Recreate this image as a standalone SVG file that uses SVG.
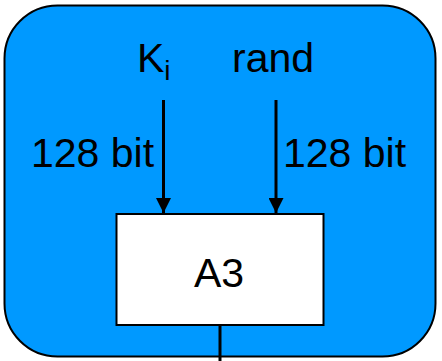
<svg xmlns="http://www.w3.org/2000/svg" width="442" height="361" viewBox="0 0 442 361">
<defs>
<style>
.t{font-family:"Liberation Sans",Arial,sans-serif;font-size:41px;fill:#000}
.ln{stroke:#000;stroke-width:3;fill:none}
</style>
<marker id="ah" markerWidth="15" markerHeight="15" viewBox="0 0 15 15" refX="15" refY="7.5" orient="auto" markerUnits="userSpaceOnUse">
<path d="M0,0 L15,7.5 L0,15 Z" fill="#000"/>
</marker>
</defs>
<g id="container">
<rect x="4.5" y="5.5" width="431" height="351" rx="53" ry="53" fill="#0099FF" stroke="#000" stroke-width="2"/>
</g>
<g id="ki"><text class="t" x="137" y="72">K<tspan font-size="28" dy="8">i</tspan></text></g>
<g id="rand"><text class="t" x="232" y="72">rand</text></g>
<g id="label-left"><text class="t" x="31" y="167">128 bit</text></g>
<g id="label-right"><text class="t" x="283" y="167">128 bit</text></g>
<g id="a3">
<rect x="116.5" y="214" width="207" height="111" fill="#fff" stroke="#000" stroke-width="2"/>
<text class="t" x="219" y="287" text-anchor="middle">A3</text>
</g>
<g id="connectors">
<line class="ln" x1="163.5" y1="100" x2="163.5" y2="213" marker-end="url(#ah)"/>
<line class="ln" x1="276" y1="100" x2="276" y2="213" marker-end="url(#ah)"/>
<line class="ln" x1="220" y1="326" x2="220" y2="361"/>
</g>
</svg>
